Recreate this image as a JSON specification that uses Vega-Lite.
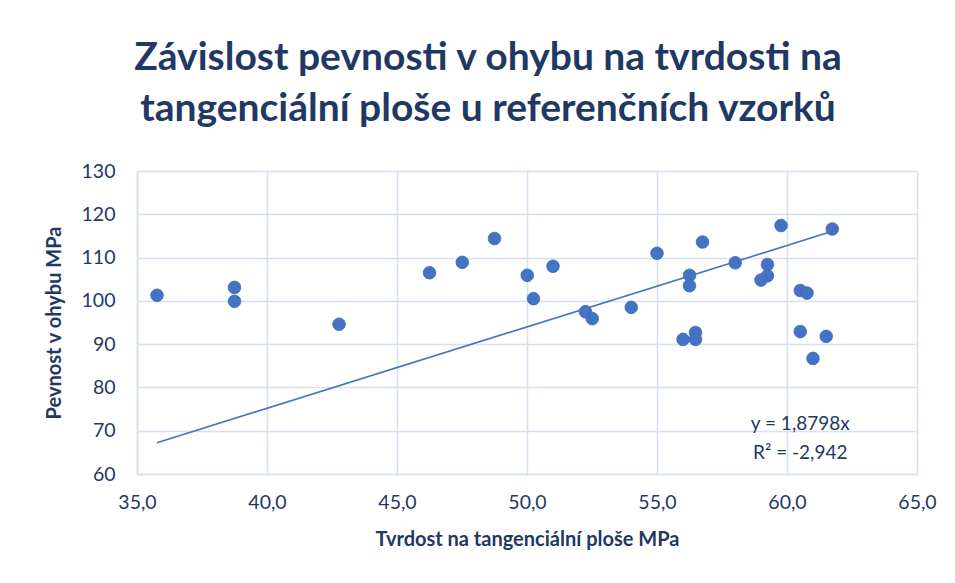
{
  "$schema": "https://vega.github.io/schema/vega-lite/v6.json",
  "autosize": "none",
  "width": 780,
  "height": 303,
  "padding": {"left": 137, "top": 171, "right": 38, "bottom": 109},
  "background": "white",
  "config": {
    "font": "Lato",
    "view": {"stroke": null},
    "axis": {
      "gridColor": "#D6E0F0",
      "gridWidth": 1.5,
      "domainColor": "#D6E0F0",
      "domainWidth": 1.5,
      "ticks": false,
      "labelColor": "#1F3864",
      "labelFontSize": 19.5,
      "labelFont": "Lato",
      "titleColor": "#1F3864",
      "titleFontSize": 20,
      "titleFont": "Lato",
      "titleFontWeight": "bold"
    }
  },
  "title": {
    "text": ["Závislost pevnosti v ohybu na tvrdosti na", "tangenciální ploše u referenčních vzorků"],
    "font": "Lato",
    "fontSize": 39,
    "fontWeight": "bold",
    "color": "#1F3864",
    "anchor": "middle",
    "dx": -39,
    "offset": 32,
    "lineHeight": 51
  },
  "datasets": {
    "points": [
      {"tvrdost": 35.77, "pevnost": 101.3},
      {"tvrdost": 38.75, "pevnost": 103.1},
      {"tvrdost": 38.75, "pevnost": 99.9},
      {"tvrdost": 42.77, "pevnost": 94.6},
      {"tvrdost": 46.25, "pevnost": 106.5},
      {"tvrdost": 47.51, "pevnost": 108.9},
      {"tvrdost": 48.75, "pevnost": 114.4},
      {"tvrdost": 50.01, "pevnost": 105.9},
      {"tvrdost": 50.25, "pevnost": 100.5},
      {"tvrdost": 51.0, "pevnost": 108.0},
      {"tvrdost": 52.25, "pevnost": 97.5},
      {"tvrdost": 52.51, "pevnost": 95.9},
      {"tvrdost": 54.01, "pevnost": 98.5},
      {"tvrdost": 55.0, "pevnost": 111.0},
      {"tvrdost": 56.0, "pevnost": 91.1},
      {"tvrdost": 56.48, "pevnost": 92.7},
      {"tvrdost": 56.48, "pevnost": 91.1},
      {"tvrdost": 56.25, "pevnost": 105.9},
      {"tvrdost": 56.25, "pevnost": 103.5},
      {"tvrdost": 56.75, "pevnost": 113.6},
      {"tvrdost": 58.01, "pevnost": 108.8},
      {"tvrdost": 59.25, "pevnost": 108.4},
      {"tvrdost": 59.25, "pevnost": 105.8},
      {"tvrdost": 59.0, "pevnost": 104.8},
      {"tvrdost": 59.77, "pevnost": 117.4},
      {"tvrdost": 60.51, "pevnost": 102.4},
      {"tvrdost": 60.77, "pevnost": 101.8},
      {"tvrdost": 60.51, "pevnost": 92.9},
      {"tvrdost": 61.51, "pevnost": 91.8},
      {"tvrdost": 61.0, "pevnost": 86.7},
      {"tvrdost": 61.74, "pevnost": 116.6}
    ],
    "trend": [
      {"tvrdost": 35.77, "pevnost": 67.24},
      {"tvrdost": 61.74, "pevnost": 116.06}
    ],
    "labels": [
      {"tvrdost": 60.51, "pevnost": 71.6, "text": "y = 1,8798x"},
      {"tvrdost": 60.51, "pevnost": 64.9, "text": "R² = -2,942"}
    ]
  },
  "encoding": {
    "x": {
      "field": "tvrdost",
      "type": "quantitative",
      "scale": {"domain": [35, 65], "nice": false, "zero": false},
      "axis": {
        "title": "Tvrdost na tangenciální ploše MPa",
        "values": [35, 40, 45, 50, 55, 60, 65],
        "labelExpr": "replace(format(datum.value, '.1f'), '.', ',')",
        "labelPadding": 19,
        "titlePadding": 18,
        "labelFlush": false,
        "labelOverlap": false
      }
    },
    "y": {
      "field": "pevnost",
      "type": "quantitative",
      "scale": {"domain": [60, 130], "nice": false, "zero": false},
      "axis": {
        "title": "Pevnost v ohybu MPa",
        "values": [60, 70, 80, 90, 100, 110, 120, 130],
        "labelPadding": 22,
        "titlePadding": 17,
        "labelFlush": false,
        "labelOverlap": false
      }
    }
  },
  "layer": [
    {
      "data": {"name": "trend"},
      "mark": {"type": "line", "color": "#4472C4", "strokeWidth": 1.6},
      "encoding": {}
    },
    {
      "data": {"name": "points"},
      "mark": {"type": "circle", "size": 160, "color": "#4472C4", "opacity": 1, "stroke": "#3F6BB8", "strokeWidth": 0.8}
    },
    {
      "data": {"name": "labels"},
      "mark": {"type": "text", "font": "Lato", "fontSize": 19, "color": "#1F3864", "align": "center", "baseline": "middle"},
      "encoding": {"text": {"field": "text"}}
    }
  ]
}
